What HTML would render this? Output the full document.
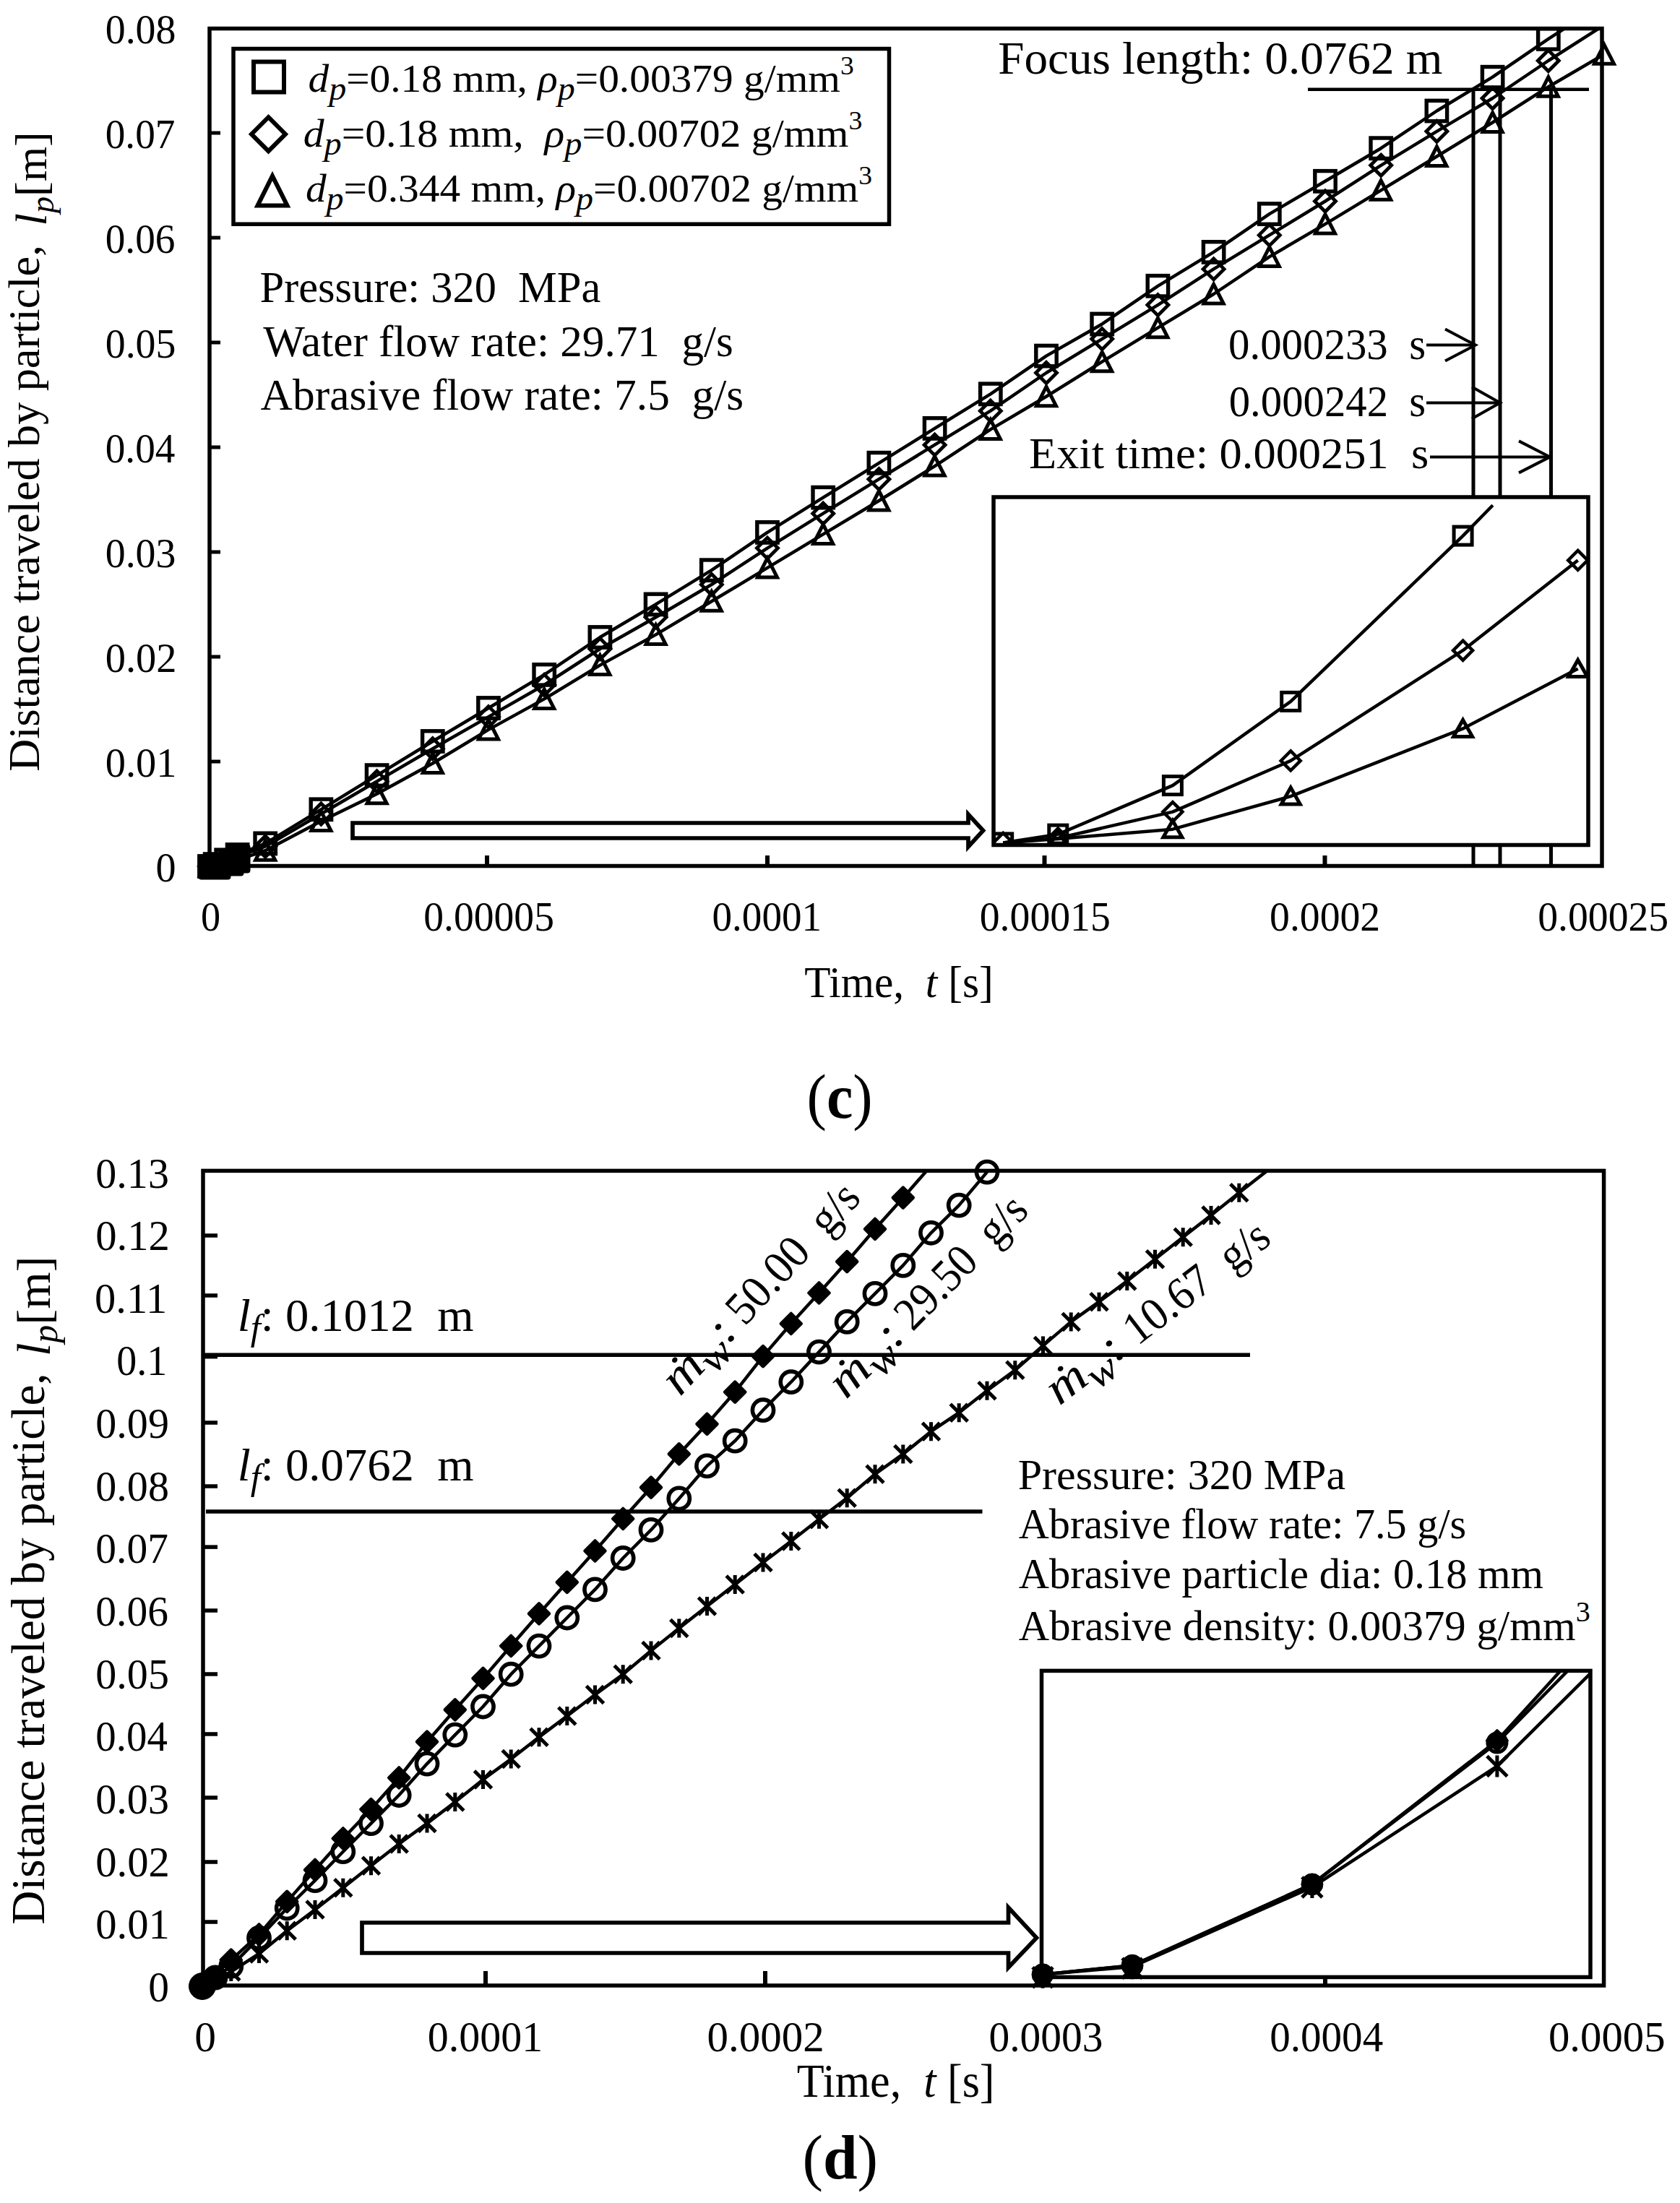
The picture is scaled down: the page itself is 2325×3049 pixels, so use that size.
<!DOCTYPE html>
<html><head><meta charset="utf-8"><title>Distance traveled by particle</title>
<style>html,body{margin:0;padding:0;background:#fff;} svg{display:block;}</style></head>
<body><svg width="2325" height="3049" viewBox="0 0 2325 3049" stroke="#000"><clipPath id="clipc"><rect x="290" y="39.5" width="1927" height="1159"/></clipPath>
<clipPath id="clipd"><rect x="281" y="1620.4" width="1938" height="1127.6"/></clipPath>
<g clip-path="url(#clipc)" fill="none" stroke="#000" stroke-linejoin="round">
<polyline points="290.0,1199.0 297.7,1196.1 313.2,1190.3 328.6,1183.0 367.2,1167.4 444.4,1120.3 521.6,1073.1 598.8,1026.0 676.0,980.0 753.2,933.9 830.4,882.0 907.6,836.4 984.8,789.2 1062.0,736.9 1139.2,688.6 1216.4,640.8 1293.6,592.9 1370.8,545.3 1448.0,492.6 1525.2,448.5 1602.4,395.8 1679.6,348.9 1756.8,296.1 1834.0,250.8 1911.2,205.2 1988.4,153.5 2065.6,106.7 2142.8,53.9 2220.0,4.2" fill="none" stroke-width="4.5" />
<polyline points="290.0,1199.0 297.7,1196.8 313.2,1191.8 328.6,1186.0 367.2,1171.5 444.4,1126.5 521.6,1081.4 598.8,1036.2 676.0,992.1 753.2,948.0 830.4,898.0 907.6,854.2 984.8,809.0 1062.0,758.6 1139.2,710.7 1216.4,663.2 1293.6,615.7 1370.8,568.7 1448.0,516.0 1525.2,469.1 1602.4,422.1 1679.6,372.4 1756.8,325.4 1834.0,278.5 1911.2,228.8 1988.4,181.8 2065.6,136.0 2142.8,84.0 2220.0,34.7" fill="none" stroke-width="4.5" />
<polyline points="290.0,1199.0 297.7,1197.5 313.2,1194.7 328.6,1190.3 367.2,1177.2 444.4,1136.4 521.6,1098.8 598.8,1056.5 676.0,1009.9 753.2,967.4 830.4,920.6 907.6,878.4 984.8,832.3 1062.0,785.9 1139.2,739.4 1216.4,693.0 1293.6,645.1 1370.8,594.4 1448.0,548.7 1525.2,500.7 1602.4,453.7 1679.6,407.0 1756.8,355.4 1834.0,310.1 1911.2,263.3 1988.4,216.5 2065.6,169.5 2142.8,120.2 2220.0,75.2" fill="none" stroke-width="4.5" />
</g>
<g stroke="#000">
<rect x="275.8" y="1184.8" width="28.4" height="28.4" fill="none" stroke-width="5.4"/>
<polygon points="290.0,1184.5 304.5,1199.0 290.0,1213.5 275.5,1199.0" fill="none" stroke-width="4.8"/>
<polygon points="290.0,1185.5 303.5,1212.0 276.5,1212.0" fill="none" stroke-width="5"/>
<rect x="283.5" y="1181.9" width="28.4" height="28.4" fill="none" stroke-width="5.4"/>
<polygon points="297.7,1182.3 312.2,1196.8 297.7,1211.3 283.2,1196.8" fill="none" stroke-width="4.8"/>
<polygon points="297.7,1184.0 311.2,1210.5 284.2,1210.5" fill="none" stroke-width="5"/>
<rect x="299.0" y="1176.1" width="28.4" height="28.4" fill="none" stroke-width="5.4"/>
<polygon points="313.2,1177.2 327.7,1191.8 313.2,1206.2 298.7,1191.8" fill="none" stroke-width="4.8"/>
<polygon points="313.2,1181.2 326.7,1207.7 299.7,1207.7" fill="none" stroke-width="5"/>
<rect x="314.4" y="1168.8" width="28.4" height="28.4" fill="none" stroke-width="5.4"/>
<polygon points="328.6,1171.5 343.1,1186.0 328.6,1200.5 314.1,1186.0" fill="none" stroke-width="4.8"/>
<polygon points="328.6,1176.8 342.1,1203.3 315.1,1203.3" fill="none" stroke-width="5"/>
<rect x="353.0" y="1153.2" width="28.4" height="28.4" fill="none" stroke-width="5.4"/>
<polygon points="367.2,1157.0 381.7,1171.5 367.2,1186.0 352.7,1171.5" fill="none" stroke-width="4.8"/>
<polygon points="367.2,1163.8 380.7,1190.2 353.7,1190.2" fill="none" stroke-width="5"/>
<rect x="430.2" y="1106.1" width="28.4" height="28.4" fill="none" stroke-width="5.4"/>
<polygon points="444.4,1112.0 458.9,1126.5 444.4,1141.0 429.9,1126.5" fill="none" stroke-width="4.8"/>
<polygon points="444.4,1122.9 457.9,1149.4 430.9,1149.4" fill="none" stroke-width="5"/>
<rect x="507.4" y="1058.9" width="28.4" height="28.4" fill="none" stroke-width="5.4"/>
<polygon points="521.6,1066.9 536.1,1081.4 521.6,1095.9 507.1,1081.4" fill="none" stroke-width="4.8"/>
<polygon points="521.6,1085.3 535.1,1111.8 508.1,1111.8" fill="none" stroke-width="5"/>
<rect x="584.6" y="1011.8" width="28.4" height="28.4" fill="none" stroke-width="5.4"/>
<polygon points="598.8,1021.7 613.3,1036.2 598.8,1050.7 584.3,1036.2" fill="none" stroke-width="4.8"/>
<polygon points="598.8,1043.0 612.3,1069.5 585.3,1069.5" fill="none" stroke-width="5"/>
<rect x="661.8" y="965.8" width="28.4" height="28.4" fill="none" stroke-width="5.4"/>
<polygon points="676.0,977.6 690.5,992.1 676.0,1006.6 661.5,992.1" fill="none" stroke-width="4.8"/>
<polygon points="676.0,996.4 689.5,1022.9 662.5,1022.9" fill="none" stroke-width="5"/>
<rect x="739.0" y="919.7" width="28.4" height="28.4" fill="none" stroke-width="5.4"/>
<polygon points="753.2,933.5 767.7,948.0 753.2,962.5 738.7,948.0" fill="none" stroke-width="4.8"/>
<polygon points="753.2,953.9 766.7,980.4 739.7,980.4" fill="none" stroke-width="5"/>
<rect x="816.2" y="867.8" width="28.4" height="28.4" fill="none" stroke-width="5.4"/>
<polygon points="830.4,883.5 844.9,898.0 830.4,912.5 815.9,898.0" fill="none" stroke-width="4.8"/>
<polygon points="830.4,907.1 843.9,933.6 816.9,933.6" fill="none" stroke-width="5"/>
<rect x="893.4" y="822.2" width="28.4" height="28.4" fill="none" stroke-width="5.4"/>
<polygon points="907.6,839.7 922.1,854.2 907.6,868.7 893.1,854.2" fill="none" stroke-width="4.8"/>
<polygon points="907.6,864.9 921.1,891.4 894.1,891.4" fill="none" stroke-width="5"/>
<rect x="970.6" y="775.0" width="28.4" height="28.4" fill="none" stroke-width="5.4"/>
<polygon points="984.8,794.5 999.3,809.0 984.8,823.5 970.3,809.0" fill="none" stroke-width="4.8"/>
<polygon points="984.8,818.8 998.3,845.3 971.3,845.3" fill="none" stroke-width="5"/>
<rect x="1047.8" y="722.7" width="28.4" height="28.4" fill="none" stroke-width="5.4"/>
<polygon points="1062.0,744.1 1076.5,758.6 1062.0,773.1 1047.5,758.6" fill="none" stroke-width="4.8"/>
<polygon points="1062.0,772.4 1075.5,798.9 1048.5,798.9" fill="none" stroke-width="5"/>
<rect x="1125.0" y="674.4" width="28.4" height="28.4" fill="none" stroke-width="5.4"/>
<polygon points="1139.2,696.2 1153.7,710.7 1139.2,725.2 1124.7,710.7" fill="none" stroke-width="4.8"/>
<polygon points="1139.2,725.9 1152.7,752.4 1125.7,752.4" fill="none" stroke-width="5"/>
<rect x="1202.2" y="626.5" width="28.4" height="28.4" fill="none" stroke-width="5.4"/>
<polygon points="1216.4,648.7 1230.9,663.2 1216.4,677.7 1201.9,663.2" fill="none" stroke-width="4.8"/>
<polygon points="1216.4,679.5 1229.9,706.0 1202.9,706.0" fill="none" stroke-width="5"/>
<rect x="1279.4" y="578.7" width="28.4" height="28.4" fill="none" stroke-width="5.4"/>
<polygon points="1293.6,601.2 1308.1,615.7 1293.6,630.2 1279.1,615.7" fill="none" stroke-width="4.8"/>
<polygon points="1293.6,631.6 1307.1,658.1 1280.1,658.1" fill="none" stroke-width="5"/>
<rect x="1356.6" y="531.1" width="28.4" height="28.4" fill="none" stroke-width="5.4"/>
<polygon points="1370.8,554.2 1385.3,568.7 1370.8,583.2 1356.3,568.7" fill="none" stroke-width="4.8"/>
<polygon points="1370.8,580.9 1384.3,607.4 1357.3,607.4" fill="none" stroke-width="5"/>
<rect x="1433.8" y="478.4" width="28.4" height="28.4" fill="none" stroke-width="5.4"/>
<polygon points="1448.0,501.5 1462.5,516.0 1448.0,530.5 1433.5,516.0" fill="none" stroke-width="4.8"/>
<polygon points="1448.0,535.2 1461.5,561.7 1434.5,561.7" fill="none" stroke-width="5"/>
<rect x="1511.0" y="434.3" width="28.4" height="28.4" fill="none" stroke-width="5.4"/>
<polygon points="1525.2,454.6 1539.7,469.1 1525.2,483.6 1510.7,469.1" fill="none" stroke-width="4.8"/>
<polygon points="1525.2,487.2 1538.7,513.7 1511.7,513.7" fill="none" stroke-width="5"/>
<rect x="1588.2" y="381.6" width="28.4" height="28.4" fill="none" stroke-width="5.4"/>
<polygon points="1602.4,407.6 1616.9,422.1 1602.4,436.6 1587.9,422.1" fill="none" stroke-width="4.8"/>
<polygon points="1602.4,440.2 1615.9,466.7 1588.9,466.7" fill="none" stroke-width="5"/>
<rect x="1665.4" y="334.7" width="28.4" height="28.4" fill="none" stroke-width="5.4"/>
<polygon points="1679.6,357.9 1694.1,372.4 1679.6,386.9 1665.1,372.4" fill="none" stroke-width="4.8"/>
<polygon points="1679.6,393.5 1693.1,420.0 1666.1,420.0" fill="none" stroke-width="5"/>
<rect x="1742.6" y="281.9" width="28.4" height="28.4" fill="none" stroke-width="5.4"/>
<polygon points="1756.8,310.9 1771.3,325.4 1756.8,339.9 1742.3,325.4" fill="none" stroke-width="4.8"/>
<polygon points="1756.8,341.9 1770.3,368.4 1743.3,368.4" fill="none" stroke-width="5"/>
<rect x="1819.8" y="236.6" width="28.4" height="28.4" fill="none" stroke-width="5.4"/>
<polygon points="1834.0,264.0 1848.5,278.5 1834.0,293.0 1819.5,278.5" fill="none" stroke-width="4.8"/>
<polygon points="1834.0,296.6 1847.5,323.1 1820.5,323.1" fill="none" stroke-width="5"/>
<rect x="1897.0" y="191.0" width="28.4" height="28.4" fill="none" stroke-width="5.4"/>
<polygon points="1911.2,214.3 1925.7,228.8 1911.2,243.3 1896.7,228.8" fill="none" stroke-width="4.8"/>
<polygon points="1911.2,249.8 1924.7,276.3 1897.7,276.3" fill="none" stroke-width="5"/>
<rect x="1974.2" y="139.3" width="28.4" height="28.4" fill="none" stroke-width="5.4"/>
<polygon points="1988.4,167.3 2002.9,181.8 1988.4,196.3 1973.9,181.8" fill="none" stroke-width="4.8"/>
<polygon points="1988.4,203.0 2001.9,229.5 1974.9,229.5" fill="none" stroke-width="5"/>
<rect x="2051.4" y="92.5" width="28.4" height="28.4" fill="none" stroke-width="5.4"/>
<polygon points="2065.6,121.5 2080.1,136.0 2065.6,150.5 2051.1,136.0" fill="none" stroke-width="4.8"/>
<polygon points="2065.6,156.0 2079.1,182.5 2052.1,182.5" fill="none" stroke-width="5"/>
<rect x="2128.6" y="39.7" width="28.4" height="28.4" fill="none" stroke-width="5.4"/>
<polygon points="2142.8,69.5 2157.3,84.0 2142.8,98.5 2128.3,84.0" fill="none" stroke-width="4.8"/>
<polygon points="2142.8,106.7 2156.3,133.2 2129.3,133.2" fill="none" stroke-width="5"/>
<polygon points="2220.0,61.8 2233.5,88.2 2206.5,88.2" fill="none" stroke-width="5"/>
</g>
<rect x="290" y="39.5" width="1927" height="1159" fill="none" stroke="#000" stroke-width="5.5"/>
<line x1="290.0" y1="1054.0" x2="305.0" y2="1054.0" stroke-width="5" />
<line x1="290.0" y1="909.0" x2="305.0" y2="909.0" stroke-width="5" />
<line x1="290.0" y1="764.0" x2="305.0" y2="764.0" stroke-width="5" />
<line x1="290.0" y1="619.0" x2="305.0" y2="619.0" stroke-width="5" />
<line x1="290.0" y1="474.0" x2="305.0" y2="474.0" stroke-width="5" />
<line x1="290.0" y1="329.0" x2="305.0" y2="329.0" stroke-width="5" />
<line x1="290.0" y1="184.0" x2="305.0" y2="184.0" stroke-width="5" />
<line x1="674.0" y1="1198.5" x2="674.0" y2="1184.0" stroke-width="6" />
<line x1="1062.0" y1="1198.5" x2="1062.0" y2="1184.0" stroke-width="6" />
<line x1="1445.5" y1="1198.5" x2="1445.5" y2="1184.0" stroke-width="6" />
<line x1="1833.5" y1="1198.5" x2="1833.5" y2="1184.0" stroke-width="6" />
<line x1="1810.0" y1="123.8" x2="2199.0" y2="123.8" stroke-width="4.5" />
<line x1="2039.0" y1="126.0" x2="2039.0" y2="1198.0" stroke-width="5" />
<line x1="2076.0" y1="121.0" x2="2076.0" y2="1198.0" stroke-width="5" />
<line x1="2146.5" y1="121.0" x2="2146.5" y2="1198.0" stroke-width="5" />
<line x1="1974.0" y1="477.6" x2="2042.0" y2="477.6" stroke-width="4" />
<polyline points="2000.0,455.6 2042.0,477.6 2000.0,499.6" fill="none" stroke-width="4" stroke-linejoin="miter"/>
<line x1="1974.0" y1="557.6" x2="2076.0" y2="557.6" stroke-width="4" />
<polyline points="2037.0,535.6 2076.0,557.6 2037.0,579.6" fill="none" stroke-width="4" stroke-linejoin="miter"/>
<line x1="1979.0" y1="632.4" x2="2145.0" y2="632.4" stroke-width="4" />
<polyline points="2102.0,610.4 2145.0,632.4 2102.0,654.4" fill="none" stroke-width="4" stroke-linejoin="miter"/>
<rect x="1375" y="688" width="823" height="481.5" fill="#fff" stroke="#000" stroke-width="5.5"/>
<clipPath id="clipci"><rect x="1375" y="688" width="823" height="481.5"/></clipPath>
<g clip-path="url(#clipci)" fill="none" stroke="#000" stroke-linejoin="round">
<polyline points="1388.2,1166.4 1464.3,1154.6 1622.9,1087.1 1786.2,970.9 2024.6,741.6 2065.9,699.3" fill="none" stroke-width="4.5" />
<polyline points="1388.2,1166.4 1464.3,1160.0 1622.9,1123.6 1786.2,1052.9 2024.6,900.2 2183.7,775.4" fill="none" stroke-width="4.5" />
<polyline points="1388.2,1166.4 1464.3,1161.0 1622.9,1147.7 1786.2,1102.1 2024.6,1008.4 2183.7,925.4" fill="none" stroke-width="4.5" />
</g>
<g clip-path="url(#clipci)" stroke="#000">
<rect x="1375.7" y="1153.9" width="25.0" height="25.0" fill="none" stroke-width="5"/>
<rect x="1451.8" y="1142.1" width="25.0" height="25.0" fill="none" stroke-width="5"/>
<rect x="1610.4" y="1074.6" width="25.0" height="25.0" fill="none" stroke-width="5"/>
<rect x="1773.7" y="958.4" width="25.0" height="25.0" fill="none" stroke-width="5"/>
<rect x="2012.1" y="729.1" width="25.0" height="25.0" fill="none" stroke-width="5"/>
<polygon points="1388.2,1152.9 1401.7,1166.4 1388.2,1179.9 1374.7,1166.4" fill="none" stroke-width="4.5"/>
<polygon points="1464.3,1146.5 1477.8,1160.0 1464.3,1173.5 1450.8,1160.0" fill="none" stroke-width="4.5"/>
<polygon points="1622.9,1110.1 1636.4,1123.6 1622.9,1137.1 1609.4,1123.6" fill="none" stroke-width="4.5"/>
<polygon points="1786.2,1039.4 1799.7,1052.9 1786.2,1066.4 1772.7,1052.9" fill="none" stroke-width="4.5"/>
<polygon points="2024.6,886.7 2038.1,900.2 2024.6,913.7 2011.1,900.2" fill="none" stroke-width="4.5"/>
<polygon points="2183.7,761.9 2197.2,775.4 2183.7,788.9 2170.2,775.4" fill="none" stroke-width="4.5"/>
<polygon points="1464.3,1149.0 1477.3,1172.0 1451.3,1172.0" fill="none" stroke-width="5"/>
<polygon points="1622.9,1135.7 1635.9,1158.7 1609.9,1158.7" fill="none" stroke-width="5"/>
<polygon points="1786.2,1090.1 1799.2,1113.1 1773.2,1113.1" fill="none" stroke-width="5"/>
<polygon points="2024.6,996.4 2037.6,1019.4 2011.6,1019.4" fill="none" stroke-width="5"/>
<polygon points="2183.7,913.4 2196.7,936.4 2170.7,936.4" fill="none" stroke-width="5"/>
</g>
<polygon points="488.0,1139.0 1340.0,1139.0 1340.0,1127.0 1360.6,1149.5 1340.0,1172.0 1340.0,1160.0 488.0,1160.0" fill="#fff" stroke-width="5.7" stroke-linejoin="miter" stroke-miterlimit="10"/>
<g fill="#000">
<rect x="275" y="1183" width="44" height="34" rx="3"/>
<rect x="303" y="1175" width="34" height="37" rx="3"/>
<rect x="313" y="1169" width="33" height="39" rx="3"/>
</g>
<rect x="323" y="67.5" width="907.5" height="242.7" fill="#fff" stroke="#000" stroke-width="5.5"/>
<rect x="351.0" y="85.5" width="42.0" height="42.0" fill="none" stroke-width="6"/>
<polygon points="371.5,162.2 395.0,185.7 371.5,209.2 348.0,185.7" fill="none" stroke-width="6"/>
<polygon points="377.0,243.5 397.5,284.5 356.5,284.5" fill="none" stroke-width="6"/>
<g font-family="'Liberation Serif','Times New Roman',serif" fill="#000" stroke="none">
<text id="cy0" x="215.46" y="1220.00" font-size="56.5" textLength="28.07" lengthAdjust="spacingAndGlyphs">0</text>
<text id="cy1" x="145.69" y="1075.00" font-size="56.5" textLength="98.82" lengthAdjust="spacingAndGlyphs">0.01</text>
<text id="cy2" x="145.69" y="930.00" font-size="56.5" textLength="98.82" lengthAdjust="spacingAndGlyphs">0.02</text>
<text id="cy3" x="145.71" y="785.00" font-size="56.5" textLength="97.75" lengthAdjust="spacingAndGlyphs">0.03</text>
<text id="cy4" x="145.74" y="640.00" font-size="56.5" textLength="96.70" lengthAdjust="spacingAndGlyphs">0.04</text>
<text id="cy5" x="145.71" y="495.00" font-size="56.5" textLength="97.75" lengthAdjust="spacingAndGlyphs">0.05</text>
<text id="cy6" x="145.74" y="350.00" font-size="56.5" textLength="96.70" lengthAdjust="spacingAndGlyphs">0.06</text>
<text id="cy7" x="145.74" y="205.00" font-size="56.5" textLength="96.70" lengthAdjust="spacingAndGlyphs">0.07</text>
<text id="cy8" x="145.71" y="60.00" font-size="56.5" textLength="97.75" lengthAdjust="spacingAndGlyphs">0.08</text>
<text id="cx0" x="277.99" y="1287.60" font-size="56.5" textLength="27.11" lengthAdjust="spacingAndGlyphs">0</text>
<text id="cx0.00005" x="586.33" y="1287.60" font-size="56.5" textLength="180.61" lengthAdjust="spacingAndGlyphs">0.00005</text>
<text id="cx0.0001" x="985.52" y="1287.60" font-size="56.5" textLength="151.65" lengthAdjust="spacingAndGlyphs">0.0001</text>
<text id="cx0.00015" x="1355.73" y="1287.60" font-size="56.5" textLength="181.11" lengthAdjust="spacingAndGlyphs">0.00015</text>
<text id="cx0.0002" x="1757.11" y="1287.60" font-size="56.5" textLength="153.05" lengthAdjust="spacingAndGlyphs">0.0002</text>
<text id="cx0.00025" x="2128.13" y="1287.60" font-size="56.5" textLength="181.11" lengthAdjust="spacingAndGlyphs">0.00025</text>
<text id="ctime" x="1113.21" y="1380.00" font-size="62" textLength="261.56" lengthAdjust="spacingAndGlyphs">Time,  <tspan font-style="italic">t</tspan> [s]</text>
<text id="leg1" x="426.50" y="127.00" font-size="55" textLength="755.20" lengthAdjust="spacingAndGlyphs"><tspan font-style="italic">d</tspan><tspan font-style="italic" font-size="46" dy="11">p</tspan><tspan dy="-11">=0.18 mm, </tspan><tspan font-style="italic">ρ</tspan><tspan font-style="italic" font-size="46" dy="11">p</tspan><tspan dy="-11">=0.00379 g/mm</tspan><tspan font-size="36" dy="-24">3</tspan></text>
<text id="leg2" x="419.80" y="203.00" font-size="55" textLength="773.50" lengthAdjust="spacingAndGlyphs"><tspan font-style="italic">d</tspan><tspan font-style="italic" font-size="46" dy="11">p</tspan><tspan dy="-11">=0.18 mm,  </tspan><tspan font-style="italic">ρ</tspan><tspan font-style="italic" font-size="46" dy="11">p</tspan><tspan dy="-11">=0.00702 g/mm</tspan><tspan font-size="36" dy="-24">3</tspan></text>
<text id="leg3" x="422.90" y="278.50" font-size="55" textLength="784.10" lengthAdjust="spacingAndGlyphs"><tspan font-style="italic">d</tspan><tspan font-style="italic" font-size="46" dy="11">p</tspan><tspan dy="-11">=0.344 mm, </tspan><tspan font-style="italic">ρ</tspan><tspan font-style="italic" font-size="46" dy="11">p</tspan><tspan dy="-11">=0.00702 g/mm</tspan><tspan font-size="36" dy="-24">3</tspan></text>
<text id="cp1" x="359.43" y="417.60" font-size="62" textLength="471.91" lengthAdjust="spacingAndGlyphs">Pressure: 320  MPa</text>
<text id="cp2" x="364.32" y="493.30" font-size="62" textLength="650.42" lengthAdjust="spacingAndGlyphs">Water flow rate: 29.71  g/s</text>
<text id="cp3" x="360.62" y="567.10" font-size="62" textLength="668.62" lengthAdjust="spacingAndGlyphs">Abrasive flow rate: 7.5  g/s</text>
<text id="focus" x="1381.16" y="101.70" font-size="63.5" textLength="615.31" lengthAdjust="spacingAndGlyphs">Focus length: 0.0762 m</text>
<text id="e233" x="1700.06" y="497.00" font-size="61" textLength="273.07" lengthAdjust="spacingAndGlyphs">0.000233  s</text>
<text id="e242" x="1700.75" y="575.50" font-size="61" textLength="272.48" lengthAdjust="spacingAndGlyphs">0.000242  s</text>
<text id="e251" x="1424.02" y="647.70" font-size="62" textLength="553.22" lengthAdjust="spacingAndGlyphs">Exit time: 0.000251  s</text>
<text id="clab" x="1116.56" y="1547.00" font-size="86" textLength="91.15" lengthAdjust="spacingAndGlyphs">(<tspan font-weight="bold">c</tspan>)</text>
<text id="dy0.13" x="132.30" y="1643.50" font-size="59.5" textLength="101.62" lengthAdjust="spacingAndGlyphs">0.13</text>
<text id="dy0.12" x="132.28" y="1730.14" font-size="59.5" textLength="102.68" lengthAdjust="spacingAndGlyphs">0.12</text>
<text id="dy0.11" x="131.08" y="1816.78" font-size="59.5" textLength="100.18" lengthAdjust="spacingAndGlyphs">0.11</text>
<text id="dy0.1" x="161.26" y="1903.42" font-size="59.5" textLength="69.99" lengthAdjust="spacingAndGlyphs">0.1</text>
<text id="dy0.09" x="132.30" y="1990.06" font-size="59.5" textLength="101.62" lengthAdjust="spacingAndGlyphs">0.09</text>
<text id="dy0.08" x="132.30" y="2076.70" font-size="59.5" textLength="101.62" lengthAdjust="spacingAndGlyphs">0.08</text>
<text id="dy0.07" x="132.32" y="2163.34" font-size="59.5" textLength="100.57" lengthAdjust="spacingAndGlyphs">0.07</text>
<text id="dy0.06" x="132.32" y="2249.98" font-size="59.5" textLength="100.57" lengthAdjust="spacingAndGlyphs">0.06</text>
<text id="dy0.05" x="132.30" y="2336.62" font-size="59.5" textLength="101.62" lengthAdjust="spacingAndGlyphs">0.05</text>
<text id="dy0.04" x="132.34" y="2423.26" font-size="59.5" textLength="99.54" lengthAdjust="spacingAndGlyphs">0.04</text>
<text id="dy0.03" x="132.30" y="2509.90" font-size="59.5" textLength="101.62" lengthAdjust="spacingAndGlyphs">0.03</text>
<text id="dy0.02" x="132.28" y="2596.54" font-size="59.5" textLength="102.68" lengthAdjust="spacingAndGlyphs">0.02</text>
<text id="dy0.01" x="132.28" y="2683.18" font-size="59.5" textLength="102.68" lengthAdjust="spacingAndGlyphs">0.01</text>
<text id="dy0" x="205.23" y="2769.82" font-size="59.5" textLength="28.77" lengthAdjust="spacingAndGlyphs">0</text>
<text id="dx0" x="269.22" y="2838.50" font-size="59.5" textLength="29.76" lengthAdjust="spacingAndGlyphs">0</text>
<text id="dx0.0001" x="591.69" y="2838.50" font-size="59.5" textLength="159.45" lengthAdjust="spacingAndGlyphs">0.0001</text>
<text id="dx0.0002" x="978.59" y="2838.50" font-size="59.5" textLength="162.15" lengthAdjust="spacingAndGlyphs">0.0002</text>
<text id="dx0.0003" x="1368.51" y="2838.50" font-size="59.5" textLength="157.99" lengthAdjust="spacingAndGlyphs">0.0003</text>
<text id="dx0.0004" x="1757.23" y="2838.50" font-size="59.5" textLength="156.96" lengthAdjust="spacingAndGlyphs">0.0004</text>
<text id="dx0.0005" x="2142.90" y="2838.50" font-size="59.5" textLength="161.71" lengthAdjust="spacingAndGlyphs">0.0005</text>
<text id="dtime" x="1102.76" y="2902.30" font-size="66" textLength="273.79" lengthAdjust="spacingAndGlyphs">Time,  <tspan font-style="italic">t</tspan> [s]</text>
<text id="lf1" x="328.74" y="1842.00" font-size="64" textLength="326.95" lengthAdjust="spacingAndGlyphs"><tspan font-style="italic">l</tspan><tspan font-style="italic" font-size="50" dy="12">f</tspan><tspan dy="-12">: 0.1012  m</tspan></text>
<text id="lf2" x="328.74" y="2049.00" font-size="64" textLength="326.95" lengthAdjust="spacingAndGlyphs"><tspan font-style="italic">l</tspan><tspan font-style="italic" font-size="50" dy="12">f</tspan><tspan dy="-12">: 0.0762  m</tspan></text>
<text id="dp1" x="1408.76" y="2061.40" font-size="58.5" textLength="453.31" lengthAdjust="spacingAndGlyphs">Pressure: 320 MPa</text>
<text id="dp2" x="1409.76" y="2128.60" font-size="58.5" textLength="619.51" lengthAdjust="spacingAndGlyphs">Abrasive flow rate: 7.5 g/s</text>
<text id="dp3" x="1409.76" y="2197.80" font-size="58.5" textLength="726.30" lengthAdjust="spacingAndGlyphs">Abrasive particle dia: 0.18 mm</text>
<text id="dp4" x="1409.76" y="2269.50" font-size="58.5" textLength="791.01" lengthAdjust="spacingAndGlyphs">Abrasive density: 0.00379 g/mm<tspan font-size="40" dy="-26">3</tspan></text>
<text id="dlab" x="1110.39" y="3014.70" font-size="86" textLength="104.63" lengthAdjust="spacingAndGlyphs">(<tspan font-weight="bold">d</tspan>)</text>
</g>
<g font-family="'Liberation Serif','Times New Roman',serif" fill="#000" stroke="none">
<text transform="translate(53.7,1065.7) rotate(-90)" x="-2" y="0" font-size="62" textLength="728.4" lengthAdjust="spacingAndGlyphs">Distance traveled by particle,</text>
<text transform="translate(53.7,1065.7) rotate(-90)" x="753.3" y="10" font-size="62" textLength="130.2" lengthAdjust="spacingAndGlyphs"><tspan font-style="italic">l</tspan><tspan font-style="italic" font-size="46" dy="10">p</tspan><tspan dy="-10">[m]</tspan></text>
</g>
<g clip-path="url(#clipd)" fill="none" stroke="#000" stroke-linejoin="round">
<polyline points="281.0,2748.0 319.8,2712.7 358.5,2677.5 397.2,2631.9 436.0,2588.0 474.8,2544.5 513.5,2504.1 552.2,2460.5 591.0,2410.7 629.8,2366.3 668.5,2322.9 707.2,2278.0 746.0,2233.4 784.8,2189.8 823.5,2146.5 862.2,2102.0 901.0,2058.7 939.8,2012.4 978.5,1970.8 1017.2,1926.6 1056.0,1877.1 1094.8,1832.0 1133.5,1789.5 1172.2,1746.2 1211.0,1701.0 1249.8,1657.7 1288.5,1613.4" fill="none" stroke-width="4.5" />
<polyline points="281.0,2748.0 319.8,2721.3 358.5,2682.2 397.2,2641.0 436.0,2602.7 474.8,2562.7 513.5,2523.6 552.2,2484.5 591.0,2441.1 629.8,2401.1 668.5,2362.0 707.2,2317.2 746.0,2278.1 784.8,2239.0 823.5,2199.9 862.2,2156.5 901.0,2117.4 939.8,2073.9 978.5,2028.9 1017.2,1994.2 1056.0,1951.7 1094.8,1912.7 1133.5,1871.1 1172.2,1829.4 1211.0,1790.4 1249.8,1751.4 1288.5,1706.3 1327.2,1668.1 1366.0,1622.1" fill="none" stroke-width="4.5" />
<polyline points="281.0,2748.0 319.8,2728.9 358.5,2704.0 397.2,2672.2 436.0,2643.0 474.8,2612.7 513.5,2582.2 552.2,2551.9 591.0,2523.6 629.8,2494.1 668.5,2462.9 707.2,2434.6 746.0,2404.2 784.8,2375.0 823.5,2345.5 862.2,2317.2 901.0,2284.6 939.8,2253.4 978.5,2222.9 1017.2,2192.9 1056.0,2162.5 1094.8,2133.0 1133.5,2102.7 1172.2,2073.2 1211.0,2040.2 1249.8,2012.4 1288.5,1981.2 1327.2,1955.2 1366.0,1924.8 1404.8,1896.2 1443.5,1862.4 1482.2,1829.4 1521.0,1801.7 1559.8,1773.0 1598.5,1742.7 1637.2,1712.3 1676.0,1682.0 1714.8,1650.7 1753.5,1620.4" fill="none" stroke-width="4.5" />
</g>
<g stroke="#000">
<path d="M269.0,2736.0L293.0,2760.0M269.0,2760.0L293.0,2736.0M281.0,2735.0L281.0,2761.0" fill="none" stroke-width="5"/>
<path d="M307.8,2716.9L331.8,2740.9M307.8,2740.9L331.8,2716.9M319.8,2715.9L319.8,2741.9" fill="none" stroke-width="5"/>
<path d="M346.5,2692.0L370.5,2716.0M346.5,2716.0L370.5,2692.0M358.5,2691.0L358.5,2717.0" fill="none" stroke-width="5"/>
<path d="M385.2,2660.2L409.2,2684.2M385.2,2684.2L409.2,2660.2M397.2,2659.2L397.2,2685.2" fill="none" stroke-width="5"/>
<path d="M424.0,2631.0L448.0,2655.0M424.0,2655.0L448.0,2631.0M436.0,2630.0L436.0,2656.0" fill="none" stroke-width="5"/>
<path d="M462.8,2600.7L486.8,2624.7M462.8,2624.7L486.8,2600.7M474.8,2599.7L474.8,2625.7" fill="none" stroke-width="5"/>
<path d="M501.5,2570.2L525.5,2594.2M501.5,2594.2L525.5,2570.2M513.5,2569.2L513.5,2595.2" fill="none" stroke-width="5"/>
<path d="M540.2,2539.9L564.2,2563.9M540.2,2563.9L564.2,2539.9M552.2,2538.9L552.2,2564.9" fill="none" stroke-width="5"/>
<path d="M579.0,2511.6L603.0,2535.6M579.0,2535.6L603.0,2511.6M591.0,2510.6L591.0,2536.6" fill="none" stroke-width="5"/>
<path d="M617.8,2482.1L641.8,2506.1M617.8,2506.1L641.8,2482.1M629.8,2481.1L629.8,2507.1" fill="none" stroke-width="5"/>
<path d="M656.5,2450.9L680.5,2474.9M656.5,2474.9L680.5,2450.9M668.5,2449.9L668.5,2475.9" fill="none" stroke-width="5"/>
<path d="M695.2,2422.6L719.2,2446.6M695.2,2446.6L719.2,2422.6M707.2,2421.6L707.2,2447.6" fill="none" stroke-width="5"/>
<path d="M734.0,2392.2L758.0,2416.2M734.0,2416.2L758.0,2392.2M746.0,2391.2L746.0,2417.2" fill="none" stroke-width="5"/>
<path d="M772.8,2363.0L796.8,2387.0M772.8,2387.0L796.8,2363.0M784.8,2362.0L784.8,2388.0" fill="none" stroke-width="5"/>
<path d="M811.5,2333.5L835.5,2357.5M811.5,2357.5L835.5,2333.5M823.5,2332.5L823.5,2358.5" fill="none" stroke-width="5"/>
<path d="M850.2,2305.2L874.2,2329.2M850.2,2329.2L874.2,2305.2M862.2,2304.2L862.2,2330.2" fill="none" stroke-width="5"/>
<path d="M889.0,2272.6L913.0,2296.6M889.0,2296.6L913.0,2272.6M901.0,2271.6L901.0,2297.6" fill="none" stroke-width="5"/>
<path d="M927.8,2241.4L951.8,2265.4M927.8,2265.4L951.8,2241.4M939.8,2240.4L939.8,2266.4" fill="none" stroke-width="5"/>
<path d="M966.5,2210.9L990.5,2234.9M966.5,2234.9L990.5,2210.9M978.5,2209.9L978.5,2235.9" fill="none" stroke-width="5"/>
<path d="M1005.2,2180.9L1029.2,2204.9M1005.2,2204.9L1029.2,2180.9M1017.2,2179.9L1017.2,2205.9" fill="none" stroke-width="5"/>
<path d="M1044.0,2150.5L1068.0,2174.5M1044.0,2174.5L1068.0,2150.5M1056.0,2149.5L1056.0,2175.5" fill="none" stroke-width="5"/>
<path d="M1082.8,2121.0L1106.8,2145.0M1082.8,2145.0L1106.8,2121.0M1094.8,2120.0L1094.8,2146.0" fill="none" stroke-width="5"/>
<path d="M1121.5,2090.7L1145.5,2114.7M1121.5,2114.7L1145.5,2090.7M1133.5,2089.7L1133.5,2115.7" fill="none" stroke-width="5"/>
<path d="M1160.2,2061.2L1184.2,2085.2M1160.2,2085.2L1184.2,2061.2M1172.2,2060.2L1172.2,2086.2" fill="none" stroke-width="5"/>
<path d="M1199.0,2028.2L1223.0,2052.2M1199.0,2052.2L1223.0,2028.2M1211.0,2027.2L1211.0,2053.2" fill="none" stroke-width="5"/>
<path d="M1237.8,2000.4L1261.8,2024.4M1237.8,2024.4L1261.8,2000.4M1249.8,1999.4L1249.8,2025.4" fill="none" stroke-width="5"/>
<path d="M1276.5,1969.2L1300.5,1993.2M1276.5,1993.2L1300.5,1969.2M1288.5,1968.2L1288.5,1994.2" fill="none" stroke-width="5"/>
<path d="M1315.2,1943.2L1339.2,1967.2M1315.2,1967.2L1339.2,1943.2M1327.2,1942.2L1327.2,1968.2" fill="none" stroke-width="5"/>
<path d="M1354.0,1912.8L1378.0,1936.8M1354.0,1936.8L1378.0,1912.8M1366.0,1911.8L1366.0,1937.8" fill="none" stroke-width="5"/>
<path d="M1392.8,1884.2L1416.8,1908.2M1392.8,1908.2L1416.8,1884.2M1404.8,1883.2L1404.8,1909.2" fill="none" stroke-width="5"/>
<path d="M1431.5,1850.4L1455.5,1874.4M1431.5,1874.4L1455.5,1850.4M1443.5,1849.4L1443.5,1875.4" fill="none" stroke-width="5"/>
<path d="M1470.2,1817.4L1494.2,1841.4M1470.2,1841.4L1494.2,1817.4M1482.2,1816.4L1482.2,1842.4" fill="none" stroke-width="5"/>
<path d="M1509.0,1789.7L1533.0,1813.7M1509.0,1813.7L1533.0,1789.7M1521.0,1788.7L1521.0,1814.7" fill="none" stroke-width="5"/>
<path d="M1547.8,1761.0L1571.8,1785.0M1547.8,1785.0L1571.8,1761.0M1559.8,1760.0L1559.8,1786.0" fill="none" stroke-width="5"/>
<path d="M1586.5,1730.7L1610.5,1754.7M1586.5,1754.7L1610.5,1730.7M1598.5,1729.7L1598.5,1755.7" fill="none" stroke-width="5"/>
<path d="M1625.2,1700.3L1649.2,1724.3M1625.2,1724.3L1649.2,1700.3M1637.2,1699.3L1637.2,1725.3" fill="none" stroke-width="5"/>
<path d="M1664.0,1670.0L1688.0,1694.0M1664.0,1694.0L1688.0,1670.0M1676.0,1669.0L1676.0,1695.0" fill="none" stroke-width="5"/>
<path d="M1702.8,1638.7L1726.8,1662.7M1702.8,1662.7L1726.8,1638.7M1714.8,1637.7L1714.8,1663.7" fill="none" stroke-width="5"/>
<circle cx="281.0" cy="2748.0" r="14.6" fill="none" stroke-width="5.6"/>
<circle cx="319.8" cy="2721.3" r="14.6" fill="none" stroke-width="5.6"/>
<circle cx="358.5" cy="2682.2" r="14.6" fill="none" stroke-width="5.6"/>
<circle cx="397.2" cy="2641.0" r="14.6" fill="none" stroke-width="5.6"/>
<circle cx="436.0" cy="2602.7" r="14.6" fill="none" stroke-width="5.6"/>
<circle cx="474.8" cy="2562.7" r="14.6" fill="none" stroke-width="5.6"/>
<circle cx="513.5" cy="2523.6" r="14.6" fill="none" stroke-width="5.6"/>
<circle cx="552.2" cy="2484.5" r="14.6" fill="none" stroke-width="5.6"/>
<circle cx="591.0" cy="2441.1" r="14.6" fill="none" stroke-width="5.6"/>
<circle cx="629.8" cy="2401.1" r="14.6" fill="none" stroke-width="5.6"/>
<circle cx="668.5" cy="2362.0" r="14.6" fill="none" stroke-width="5.6"/>
<circle cx="707.2" cy="2317.2" r="14.6" fill="none" stroke-width="5.6"/>
<circle cx="746.0" cy="2278.1" r="14.6" fill="none" stroke-width="5.6"/>
<circle cx="784.8" cy="2239.0" r="14.6" fill="none" stroke-width="5.6"/>
<circle cx="823.5" cy="2199.9" r="14.6" fill="none" stroke-width="5.6"/>
<circle cx="862.2" cy="2156.5" r="14.6" fill="none" stroke-width="5.6"/>
<circle cx="901.0" cy="2117.4" r="14.6" fill="none" stroke-width="5.6"/>
<circle cx="939.8" cy="2073.9" r="14.6" fill="none" stroke-width="5.6"/>
<circle cx="978.5" cy="2028.9" r="14.6" fill="none" stroke-width="5.6"/>
<circle cx="1017.2" cy="1994.2" r="14.6" fill="none" stroke-width="5.6"/>
<circle cx="1056.0" cy="1951.7" r="14.6" fill="none" stroke-width="5.6"/>
<circle cx="1094.8" cy="1912.7" r="14.6" fill="none" stroke-width="5.6"/>
<circle cx="1133.5" cy="1871.1" r="14.6" fill="none" stroke-width="5.6"/>
<circle cx="1172.2" cy="1829.4" r="14.6" fill="none" stroke-width="5.6"/>
<circle cx="1211.0" cy="1790.4" r="14.6" fill="none" stroke-width="5.6"/>
<circle cx="1249.8" cy="1751.4" r="14.6" fill="none" stroke-width="5.6"/>
<circle cx="1288.5" cy="1706.3" r="14.6" fill="none" stroke-width="5.6"/>
<circle cx="1327.2" cy="1668.1" r="14.6" fill="none" stroke-width="5.6"/>
<circle cx="1366.0" cy="1622.1" r="14.6" fill="none" stroke-width="5.6"/>
<polygon points="281.0,2734.0 295.0,2748.0 281.0,2762.0 267.0,2748.0" fill="#000" stroke-width="4.5" stroke-linejoin="round"/>
<polygon points="319.8,2698.7 333.8,2712.7 319.8,2726.7 305.8,2712.7" fill="#000" stroke-width="4.5" stroke-linejoin="round"/>
<polygon points="358.5,2663.5 372.5,2677.5 358.5,2691.5 344.5,2677.5" fill="#000" stroke-width="4.5" stroke-linejoin="round"/>
<polygon points="397.2,2617.9 411.2,2631.9 397.2,2645.9 383.2,2631.9" fill="#000" stroke-width="4.5" stroke-linejoin="round"/>
<polygon points="436.0,2574.0 450.0,2588.0 436.0,2602.0 422.0,2588.0" fill="#000" stroke-width="4.5" stroke-linejoin="round"/>
<polygon points="474.8,2530.5 488.8,2544.5 474.8,2558.5 460.8,2544.5" fill="#000" stroke-width="4.5" stroke-linejoin="round"/>
<polygon points="513.5,2490.1 527.5,2504.1 513.5,2518.1 499.5,2504.1" fill="#000" stroke-width="4.5" stroke-linejoin="round"/>
<polygon points="552.2,2446.5 566.2,2460.5 552.2,2474.5 538.2,2460.5" fill="#000" stroke-width="4.5" stroke-linejoin="round"/>
<polygon points="591.0,2396.7 605.0,2410.7 591.0,2424.7 577.0,2410.7" fill="#000" stroke-width="4.5" stroke-linejoin="round"/>
<polygon points="629.8,2352.3 643.8,2366.3 629.8,2380.3 615.8,2366.3" fill="#000" stroke-width="4.5" stroke-linejoin="round"/>
<polygon points="668.5,2308.9 682.5,2322.9 668.5,2336.9 654.5,2322.9" fill="#000" stroke-width="4.5" stroke-linejoin="round"/>
<polygon points="707.2,2264.0 721.2,2278.0 707.2,2292.0 693.2,2278.0" fill="#000" stroke-width="4.5" stroke-linejoin="round"/>
<polygon points="746.0,2219.4 760.0,2233.4 746.0,2247.4 732.0,2233.4" fill="#000" stroke-width="4.5" stroke-linejoin="round"/>
<polygon points="784.8,2175.8 798.8,2189.8 784.8,2203.8 770.8,2189.8" fill="#000" stroke-width="4.5" stroke-linejoin="round"/>
<polygon points="823.5,2132.5 837.5,2146.5 823.5,2160.5 809.5,2146.5" fill="#000" stroke-width="4.5" stroke-linejoin="round"/>
<polygon points="862.2,2088.0 876.2,2102.0 862.2,2116.0 848.2,2102.0" fill="#000" stroke-width="4.5" stroke-linejoin="round"/>
<polygon points="901.0,2044.7 915.0,2058.7 901.0,2072.7 887.0,2058.7" fill="#000" stroke-width="4.5" stroke-linejoin="round"/>
<polygon points="939.8,1998.4 953.8,2012.4 939.8,2026.4 925.8,2012.4" fill="#000" stroke-width="4.5" stroke-linejoin="round"/>
<polygon points="978.5,1956.8 992.5,1970.8 978.5,1984.8 964.5,1970.8" fill="#000" stroke-width="4.5" stroke-linejoin="round"/>
<polygon points="1017.2,1912.6 1031.2,1926.6 1017.2,1940.6 1003.2,1926.6" fill="#000" stroke-width="4.5" stroke-linejoin="round"/>
<polygon points="1056.0,1863.1 1070.0,1877.1 1056.0,1891.1 1042.0,1877.1" fill="#000" stroke-width="4.5" stroke-linejoin="round"/>
<polygon points="1094.8,1818.0 1108.8,1832.0 1094.8,1846.0 1080.8,1832.0" fill="#000" stroke-width="4.5" stroke-linejoin="round"/>
<polygon points="1133.5,1775.5 1147.5,1789.5 1133.5,1803.5 1119.5,1789.5" fill="#000" stroke-width="4.5" stroke-linejoin="round"/>
<polygon points="1172.2,1732.2 1186.2,1746.2 1172.2,1760.2 1158.2,1746.2" fill="#000" stroke-width="4.5" stroke-linejoin="round"/>
<polygon points="1211.0,1687.0 1225.0,1701.0 1211.0,1715.0 1197.0,1701.0" fill="#000" stroke-width="4.5" stroke-linejoin="round"/>
<polygon points="1249.8,1643.7 1263.8,1657.7 1249.8,1671.7 1235.8,1657.7" fill="#000" stroke-width="4.5" stroke-linejoin="round"/>
</g>
<circle cx="280" cy="2749" r="18.5" fill="#000"/>
<circle cx="298" cy="2737" r="17" fill="#000"/>
<rect x="281" y="1620.4" width="1938.6" height="1127.6" fill="none" stroke="#000" stroke-width="5.5"/>
<line x1="281.0" y1="1710.0" x2="301.0" y2="1710.0" stroke-width="5.5" />
<line x1="281.0" y1="1793.0" x2="301.0" y2="1793.0" stroke-width="5.5" />
<line x1="281.0" y1="1877.7" x2="301.0" y2="1877.7" stroke-width="5.5" />
<line x1="281.0" y1="1969.0" x2="301.0" y2="1969.0" stroke-width="5.5" />
<line x1="281.0" y1="2057.0" x2="301.0" y2="2057.0" stroke-width="5.5" />
<line x1="281.0" y1="2141.1" x2="301.0" y2="2141.1" stroke-width="5.5" />
<line x1="281.0" y1="2229.0" x2="301.0" y2="2229.0" stroke-width="5.5" />
<line x1="281.0" y1="2317.0" x2="301.0" y2="2317.0" stroke-width="5.5" />
<line x1="281.0" y1="2400.0" x2="301.0" y2="2400.0" stroke-width="5.5" />
<line x1="281.0" y1="2488.0" x2="301.0" y2="2488.0" stroke-width="5.5" />
<line x1="281.0" y1="2577.0" x2="301.0" y2="2577.0" stroke-width="5.5" />
<line x1="281.0" y1="2660.0" x2="301.0" y2="2660.0" stroke-width="5.5" />
<line x1="672.0" y1="2748.0" x2="672.0" y2="2728.0" stroke-width="6" />
<line x1="1059.0" y1="2748.0" x2="1059.0" y2="2728.0" stroke-width="6" />
<line x1="1447.0" y1="2748.0" x2="1447.0" y2="2728.0" stroke-width="6" />
<line x1="1834.0" y1="2748.0" x2="1834.0" y2="2728.0" stroke-width="6" />
<line x1="281.0" y1="1875.3" x2="1730.0" y2="1875.3" stroke-width="5.5" />
<line x1="285.0" y1="2092.1" x2="1359.5" y2="2092.1" stroke-width="5.5" />
<rect x="1441.5" y="2312.4" width="759.5" height="424" fill="#fff" stroke="#000" stroke-width="5.5"/>
<clipPath id="clipdi"><rect x="1441.5" y="2312.4" width="759.5" height="424"/></clipPath>
<g clip-path="url(#clipdi)" fill="none" stroke="#000" stroke-linejoin="round">
<polyline points="1443.0,2732.8 1567.0,2720.2 1815.9,2607.9 2071.9,2409.0 2160.0,2312.0" fill="none" stroke-width="4.5" />
<polyline points="1443.0,2732.8 1567.0,2720.2 1815.9,2607.9 2071.9,2412.0 2170.0,2312.0" fill="none" stroke-width="4.5" />
<polyline points="1443.0,2732.8 1567.0,2722.0 1815.9,2612.0 2071.9,2444.4 2201.0,2316.0" fill="none" stroke-width="4.5" />
</g>
<g stroke="#000">
<circle cx="1443" cy="2732.8" r="15" fill="#000"/>
<path d="M1429.0,2722.8L1457.0,2750.8M1429.0,2750.8L1457.0,2722.8M1443.0,2721.8L1443.0,2751.8" fill="none" stroke-width="5"/>
<circle cx="1567" cy="2720.2" r="15" fill="#000"/>
<path d="M1553.0,2710.2L1581.0,2738.2M1553.0,2738.2L1581.0,2710.2M1567.0,2709.2L1567.0,2739.2" fill="none" stroke-width="5"/>
<circle cx="1815.9" cy="2607.9" r="15" fill="#000"/>
<path d="M1801.9,2597.9L1829.9,2625.9M1801.9,2625.9L1829.9,2597.9M1815.9,2596.9L1815.9,2626.9" fill="none" stroke-width="5"/>
<polygon points="2071.9,2394.5 2086.4,2409.0 2071.9,2423.5 2057.4,2409.0" fill="#000" stroke-width="3" stroke-linejoin="round"/>
<circle cx="2071.9" cy="2412.0" r="13" fill="none" stroke-width="5"/>
<path d="M2057.9,2430.4L2085.9,2458.4M2057.9,2458.4L2085.9,2430.4M2071.9,2429.4L2071.9,2459.4" fill="none" stroke-width="5"/>
</g>
<polygon points="501.0,2661.0 1395.5,2661.0 1395.5,2640.0 1434.5,2682.0 1395.5,2723.0 1395.5,2703.0 501.0,2703.0" fill="#fff" stroke-width="5.7" stroke-linejoin="miter" stroke-miterlimit="10"/>
<g font-family="'Liberation Serif','Times New Roman',serif" fill="#000" stroke="none">
<text transform="translate(61.1,2661.8) rotate(-90)" x="-2" y="0" font-size="66" textLength="763.4" lengthAdjust="spacingAndGlyphs">Distance traveled by particle,</text>
<text transform="translate(61.1,2661.8) rotate(-90)" x="784.8" y="7.5" font-size="66" textLength="138.6" lengthAdjust="spacingAndGlyphs"><tspan font-style="italic">l</tspan><tspan font-style="italic" font-size="50" dy="10">p</tspan><tspan dy="-10">[m]</tspan></text>
<text transform="translate(1076.70,1786.70) rotate(-47.3)" x="-200.12" y="0" font-size="66" textLength="118.16" lengthAdjust="spacingAndGlyphs"><tspan font-style="italic">ṁ</tspan><tspan font-style="italic" font-size="54" dy="15">w</tspan><tspan dy="-15">:</tspan></text>
<text transform="translate(1076.70,1786.70) rotate(-47.3)" x="-67.63" y="0" font-size="64" textLength="240.11" lengthAdjust="spacingAndGlyphs">50.00  g/s</text>
<text transform="translate(1310.50,1795.40) rotate(-45.5)" x="-199.52" y="0" font-size="66" textLength="118.16" lengthAdjust="spacingAndGlyphs"><tspan font-style="italic">ṁ</tspan><tspan font-style="italic" font-size="54" dy="15">w</tspan><tspan dy="-15">:</tspan></text>
<text transform="translate(1310.50,1795.40) rotate(-45.5)" x="-67.78" y="0" font-size="64" textLength="232.27" lengthAdjust="spacingAndGlyphs">29.50  g/s</text>
<text transform="translate(1624.60,1824.60) rotate(-37.5)" x="-199.92" y="0" font-size="66" textLength="118.16" lengthAdjust="spacingAndGlyphs"><tspan font-style="italic">ṁ</tspan><tspan font-style="italic" font-size="54" dy="15">w</tspan><tspan dy="-15">:</tspan></text>
<text transform="translate(1624.60,1824.60) rotate(-37.5)" x="-63.47" y="0" font-size="64" textLength="236.71" lengthAdjust="spacingAndGlyphs">10.67  g/s</text>
</g></svg></body></html>
